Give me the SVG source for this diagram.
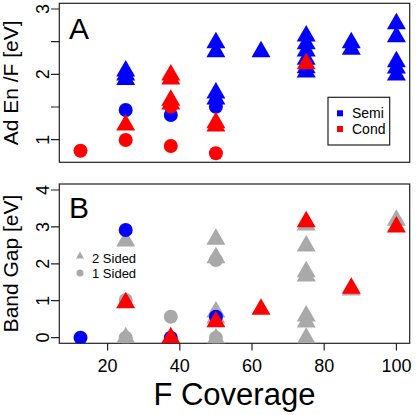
<svg xmlns="http://www.w3.org/2000/svg" width="416" height="415" viewBox="0 0 416 415">
<style>
text{font-family:"Liberation Sans",Arial,sans-serif;fill:#000}
.box{fill:none;stroke:#222;stroke-width:1.2}
.tk{stroke:#222;stroke-width:1.2}
.tl{font-size:18px;text-anchor:middle}
.at{font-size:21px;text-anchor:middle}
.b{fill:#0000FF}
.r{fill:#FF0000}
.g{fill:#A9A9A9}
</style>
<defs>
<path id="t" d="M0,-10.5 L9.5,6 L-9.5,6Z"/>
<clipPath id="ca"><rect x="59.3" y="3.3" width="350.4" height="159"/></clipPath>
<clipPath id="cb"><rect x="59.3" y="184" width="350.4" height="159.3"/></clipPath>
</defs>
<rect width="416" height="415" fill="#fff"/>

<g id="panelA-axes">
<rect class="box" x="59.3" y="3.3" width="350.4" height="159"/>
<path class="tk" d="M59.3,9H51M59.3,41.7H51M59.3,74.3H51M59.3,107H51M59.3,139.7H51"/>
<text class="tl" transform="translate(49,9) rotate(-90)">3</text>
<text class="tl" transform="translate(49,74.3) rotate(-90)">2</text>
<text class="tl" transform="translate(49,139.7) rotate(-90)">1</text>
<text class="at" transform="translate(18,82.8) rotate(-90)">Ad En /F [eV]</text>
<text x="69" y="38.5" font-size="30">A</text>
</g>

<g id="panelA-points" clip-path="url(#ca)">
<circle class="r" cx="80.5" cy="150.7" r="7"/>
<use href="#t" class="b" x="125.7" y="70.5"/>
<use href="#t" class="b" x="125.7" y="74.5"/>
<use href="#t" class="b" x="125.7" y="79"/>
<circle class="b" cx="125.7" cy="110" r="7"/>
<use href="#t" class="r" x="125.7" y="124.5"/>
<circle class="r" cx="125.7" cy="140" r="7"/>
<circle class="b" cx="170.8" cy="115" r="7"/>
<circle class="r" cx="170.8" cy="106.5" r="7"/>
<use href="#t" class="r" x="170.8" y="74.5"/>
<use href="#t" class="r" x="170.8" y="78.5"/>
<use href="#t" class="r" x="170.8" y="99.8"/>
<use href="#t" class="r" x="170.8" y="103.5"/>
<circle class="r" cx="170.8" cy="146" r="7"/>
<use href="#t" class="b" x="215.9" y="42.2"/>
<use href="#t" class="b" x="215.9" y="51.2"/>
<use href="#t" class="b" x="215.9" y="92.5"/>
<use href="#t" class="b" x="215.9" y="98.5"/>
<circle class="b" cx="215.9" cy="106.7" r="7"/>
<use href="#t" class="r" x="215.9" y="122.2"/>
<use href="#t" class="r" x="215.9" y="125.5"/>
<circle class="r" cx="215.9" cy="153.3" r="7"/>
<use href="#t" class="b" x="261" y="51.2"/>
<use href="#t" class="b" x="306.2" y="35.5"/>
<use href="#t" class="b" x="306.2" y="43.2"/>
<use href="#t" class="b" x="306.2" y="50.5"/>
<use href="#t" class="b" x="306.2" y="58.8"/>
<use href="#t" class="b" x="306.2" y="67.2"/>
<use href="#t" class="b" x="306.2" y="71.5"/>
<use href="#t" class="r" x="306.2" y="63.2"/>
<use href="#t" class="b" x="351.3" y="42.2"/>
<use href="#t" class="b" x="351.3" y="48.8"/>
<use href="#t" class="b" x="396.4" y="23.2"/>
<use href="#t" class="b" x="396.4" y="36.2"/>
<use href="#t" class="b" x="396.4" y="61.2"/>
<use href="#t" class="b" x="396.4" y="67.5"/>
<use href="#t" class="b" x="396.4" y="74.5"/>
</g>

<g id="legendA">
<rect class="box" x="328" y="97.3" width="61.7" height="47.7"/>
<rect class="b" x="337" y="110.3" width="6" height="6"/>
<rect class="r" x="337" y="126" width="6" height="6"/>
<text x="352" y="118.3" font-size="14">Semi</text>
<text x="352" y="134" font-size="14">Cond</text>
</g>

<g id="panelB-axes">
<rect class="box" x="59.3" y="184" width="350.4" height="159.3"/>
<path class="tk" d="M59.3,190H51M59.3,226.9H51M59.3,263.8H51M59.3,300.7H51M59.3,337.6H51"/>
<text class="tl" transform="translate(49,190) rotate(-90)">4</text>
<text class="tl" transform="translate(49,226.9) rotate(-90)">3</text>
<text class="tl" transform="translate(49,263.8) rotate(-90)">2</text>
<text class="tl" transform="translate(49,300.7) rotate(-90)">1</text>
<text class="tl" transform="translate(49,337.6) rotate(-90)">0</text>
<text class="at" transform="translate(18,263.5) rotate(-90)">Band Gap [eV]</text>
<text x="69" y="218" font-size="30">B</text>
<path class="tk" d="M107.6,343.3V350.5M179.8,343.3V350.5M252,343.3V350.5M324.2,343.3V350.5M396.4,343.3V350.5"/>
<text class="tl" x="107.6" y="371.7">20</text>
<text class="tl" x="179.8" y="371.7">40</text>
<text class="tl" x="252" y="371.7">60</text>
<text class="tl" x="324.2" y="371.7">80</text>
<text class="tl" x="396.4" y="371.7">100</text>
<text x="234.4" y="405" font-size="31" text-anchor="middle">F Coverage</text>
</g>

<g id="panelB-points" clip-path="url(#cb)">
<circle class="b" cx="80.5" cy="337.7" r="7"/>
<use href="#t" class="g" x="125.7" y="240.5"/>
<circle class="b" cx="125.7" cy="230" r="7"/>
<circle class="g" cx="125.7" cy="300" r="7"/>
<use href="#t" class="r" x="125.7" y="302.2"/>
<circle class="g" cx="125.7" cy="337.7" r="7"/>
<use href="#t" class="g" x="125.7" y="337.2"/>
<circle class="g" cx="170.8" cy="316.7" r="7"/>
<circle class="b" cx="170.8" cy="337.7" r="7"/>
<use href="#t" class="r" x="170.8" y="337.2"/>
<use href="#t" class="g" x="215.9" y="238.8"/>
<circle class="g" cx="215.9" cy="260" r="7"/>
<use href="#t" class="g" x="215.9" y="257.2"/>
<use href="#t" class="g" x="215.9" y="311.5"/>
<use href="#t" class="g" x="215.9" y="317.5"/>
<circle class="g" cx="215.9" cy="337.7" r="7"/>
<use href="#t" class="g" x="215.9" y="338.5"/>
<circle class="b" cx="215.9" cy="316.7" r="7"/>
<use href="#t" class="r" x="215.9" y="321.2"/>
<use href="#t" class="r" x="261" y="308.8"/>
<use href="#t" class="g" x="306.2" y="224.5"/>
<use href="#t" class="g" x="306.2" y="245.5"/>
<use href="#t" class="r" x="306.2" y="221.2"/>
<use href="#t" class="g" x="306.2" y="271.2"/>
<use href="#t" class="g" x="306.2" y="275.5"/>
<use href="#t" class="g" x="306.2" y="315.5"/>
<use href="#t" class="g" x="306.2" y="321.5"/>
<use href="#t" class="g" x="306.2" y="337.8"/>
<use href="#t" class="g" x="351.3" y="289.5"/>
<use href="#t" class="r" x="351.3" y="287.8"/>
<use href="#t" class="g" x="396.4" y="219.8"/>
<use href="#t" class="r" x="396.4" y="226.5"/>
</g>

<g id="legendB">
<path class="g" d="M80,251.5 L84,258.5 L76,258.5Z"/>
<circle class="g" cx="80" cy="273" r="3.5"/>
<text x="92" y="262.7" font-size="13">2 Sided</text>
<text x="92" y="278" font-size="13">1 Sided</text>
</g>
</svg>
